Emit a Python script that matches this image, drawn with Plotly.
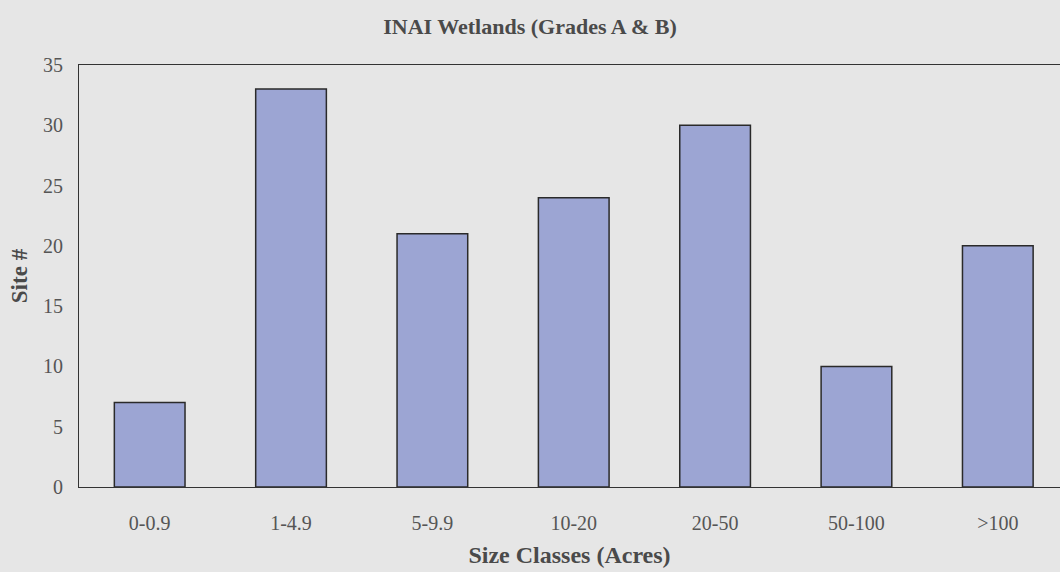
import plotly.graph_objects as go

categories = ["0-0.9", "1-4.9", "5-9.9", "10-20", "20-50", "50-100", ">100"]
site_counts = [7, 33, 21, 24, 30, 10, 20]
y_ticks = [0, 5, 10, 15, 20, 25, 30, 35]

font_family = "Liberation Serif, Times New Roman, serif"

fig = go.Figure(
    go.Bar(
        x=categories,
        y=site_counts,
        marker=dict(color="#9ca5d3", line=dict(color="#2a2a2a", width=1.5)),
    )
)

fig.update_layout(
    width=1060,
    height=572,
    margin=dict(l=79, r=0, t=65, b=85),
    paper_bgcolor="#e6e6e6",
    plot_bgcolor="#e6e6e6",
    bargap=0.5,
    showlegend=False,
    font=dict(family=font_family, color="#555555", size=20),
    title=dict(
        text="<b>INAI Wetlands (Grades A & B)</b>",
        x=0.5,
        xanchor="center",
        y=1 - 26 / 572,
        yanchor="middle",
        font=dict(family=font_family, size=22, color="#4a4a4a"),
    ),
)

fig.update_xaxes(
    range=[-0.5, 6.44],
    showline=True,
    linecolor="#333333",
    linewidth=1,
    mirror=True,
    ticks="",
    showgrid=False,
    tickfont=dict(size=20),
    ticklabelstandoff=18,
    title=dict(text="<b>Size Classes (Acres)</b>", font=dict(size=24, color="#4a4a4a"), standoff=13),
)

fig.update_yaxes(
    range=[0, 35],
    tickvals=y_ticks,
    showline=True,
    linecolor="#333333",
    linewidth=1,
    ticks="",
    showgrid=False,
    zeroline=False,
    tickfont=dict(size=20),
    ticklabelstandoff=11,
    title=dict(text="<b>Site #</b>", font=dict(size=23, color="#4a4a4a"), standoff=8),
)

fig.write_html(
    "out.html",
    config={"displayModeBar": False},
    post_script="document.body.style.margin='0';",
)
